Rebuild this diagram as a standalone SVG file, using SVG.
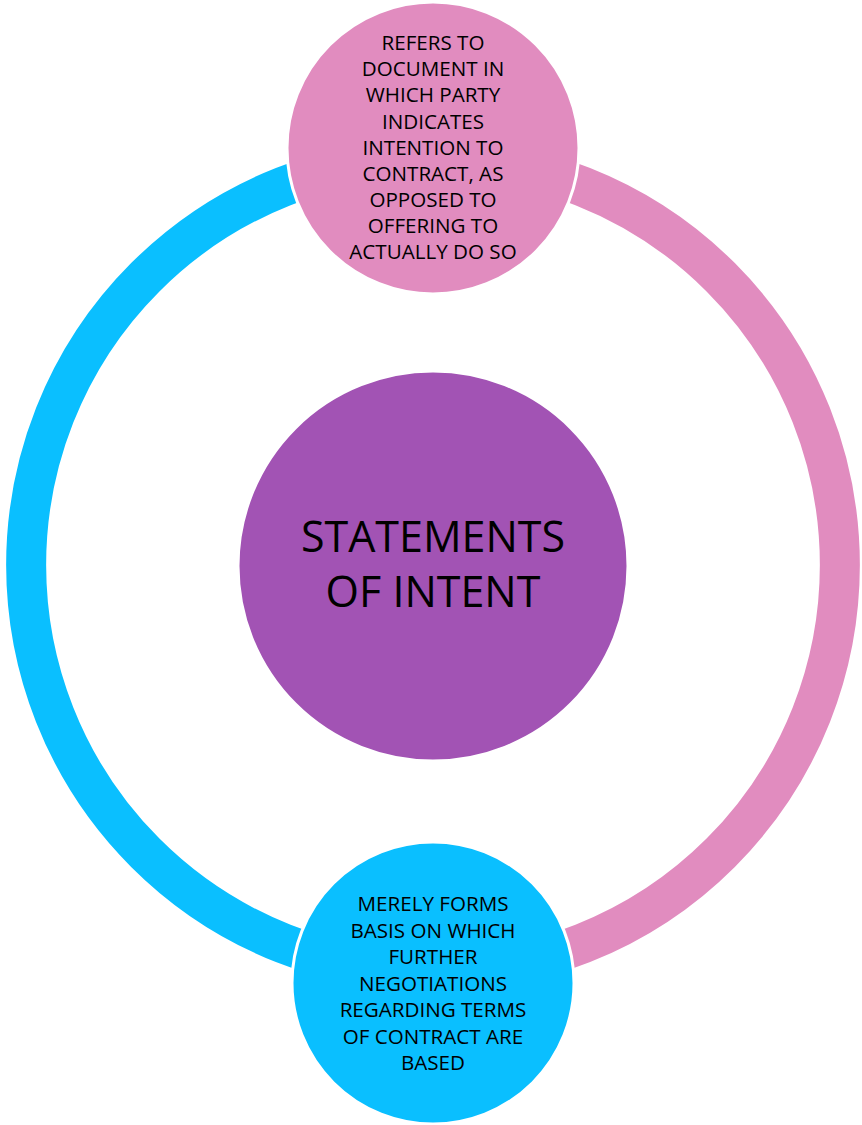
<svg xmlns="http://www.w3.org/2000/svg" width="862" height="1125" viewBox="0 0 862 1125">
<style>
.lbl{font-family:"Open Sans","Liberation Sans",sans-serif;fill:#000;text-anchor:middle}
.sm{font-size:20.6px}
.big{font-size:43px}
.node{stroke:#fff;stroke-width:3}
</style>
<rect width="862" height="1125" fill="#fff"/>
<g id="connectors" fill="none" stroke-width="40">
<path d="M433,158 A407,407 0 0 0 433,972" stroke="#0ABFFF"/>
<path d="M433,158 A407,407 0 0 1 433,972" stroke="#E18CBF"/>
</g>
<g id="center">
<circle class="node" cx="433" cy="566" r="195" fill="#A253B4"/>
<text class="lbl big" x="433" y="552">STATEMENTS</text>
<text class="lbl big" x="433" y="607">OF INTENT</text>
</g>
<g id="top">
<circle class="node" cx="433" cy="148" r="146" fill="#E18CBF"/>
<text class="lbl sm" x="433" y="50">REFERS TO</text>
<text class="lbl sm" x="433" y="76.2">DOCUMENT IN</text>
<text class="lbl sm" x="433" y="102.3">WHICH PARTY</text>
<text class="lbl sm" x="433" y="128.5">INDICATES</text>
<text class="lbl sm" x="433" y="154.6">INTENTION TO</text>
<text class="lbl sm" x="433" y="180.8">CONTRACT, AS</text>
<text class="lbl sm" x="433" y="206.9">OPPOSED TO</text>
<text class="lbl sm" x="433" y="233.1">OFFERING TO</text>
<text class="lbl sm" x="433" y="259.3">ACTUALLY DO SO</text>
</g>
<g id="bottom">
<circle class="node" cx="433" cy="983" r="141" fill="#0ABFFF"/>
<text class="lbl sm" x="433" y="911">MERELY FORMS</text>
<text class="lbl sm" x="433" y="937.5">BASIS ON WHICH</text>
<text class="lbl sm" x="433" y="964">FURTHER</text>
<text class="lbl sm" x="433" y="990.5">NEGOTIATIONS</text>
<text class="lbl sm" x="433" y="1017">REGARDING TERMS</text>
<text class="lbl sm" x="433" y="1043.5">OF CONTRACT ARE</text>
<text class="lbl sm" x="433" y="1070">BASED</text>
</g>
</svg>
